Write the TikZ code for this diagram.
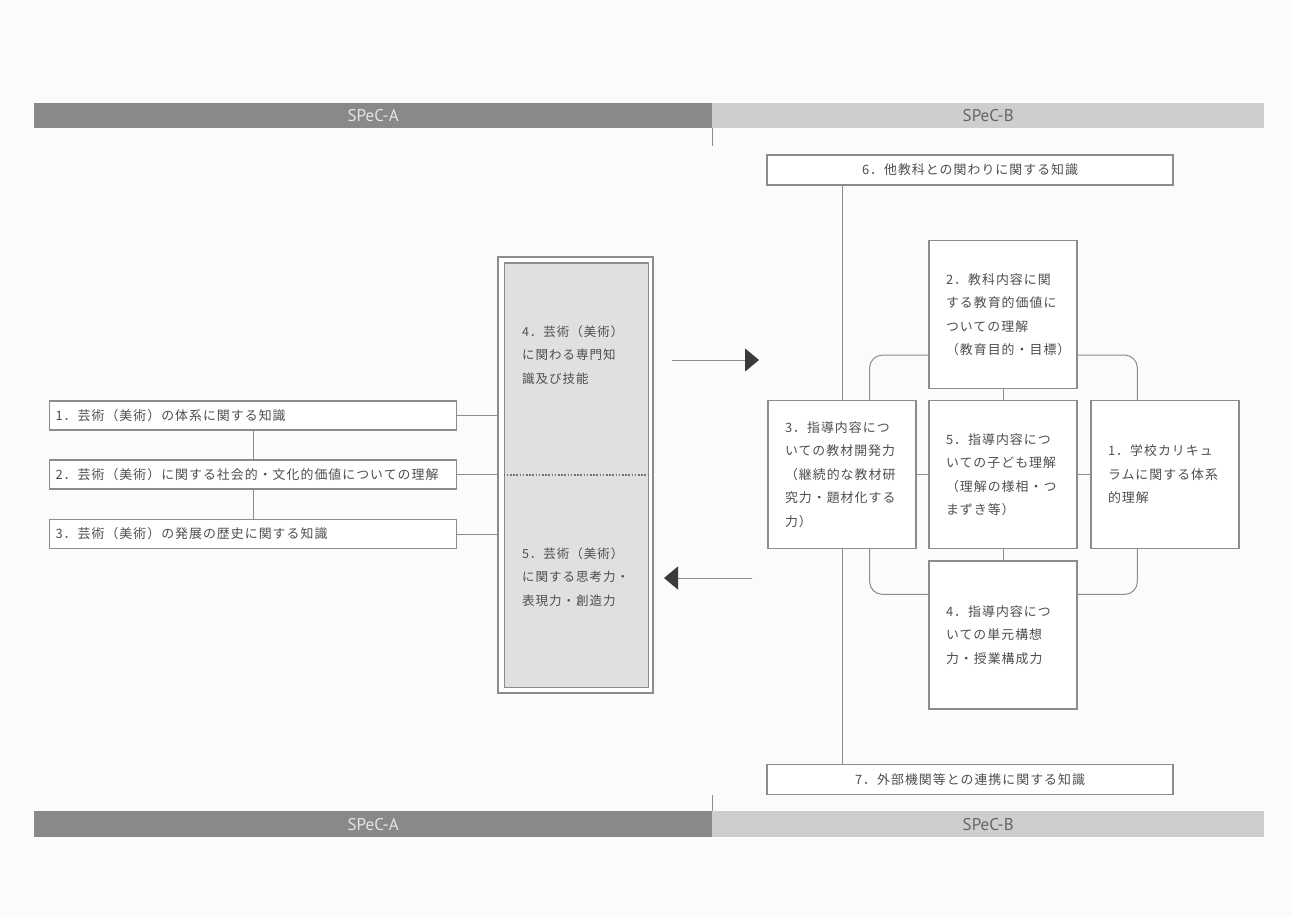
\documentclass[tikz,border=0pt]{standalone}
\usepackage{fontspec}
\newfontfamily\jpfont[LetterSpace=8]{Noto Sans CJK JP}
\newfontfamily\bandfont{PT Sans}
\usetikzlibrary{arrows.meta}

\definecolor{bgc}{HTML}{FBFBFB}
\definecolor{barA}{HTML}{88898B}
\definecolor{barB}{HTML}{CDCECF}
\definecolor{ln}{HTML}{8C8C8C}
\definecolor{txt}{HTML}{4E4E4E}
\definecolor{cfill}{HTML}{DFE0E2}
\definecolor{tipc}{HTML}{3A3A3A}

\begin{document}
\begin{tikzpicture}[x=1pt,y=-1pt,
  band/.style={anchor=north west, inner sep=0, minimum height=25pt,
    font=\bandfont\fontsize{17pt}{17pt}\selectfont},
  box/.style={draw=ln, line width=1.1pt, fill=white, inner sep=0, text=txt,
    font=\jpfont\fontsize{12.9pt}{23.5pt}\selectfont},
  lbox/.style={box, anchor=west, minimum height=29pt, text width=395pt,
    inner xsep=6pt, align=left},
  sq/.style={box, minimum height=148pt, text width=114pt, inner xsep=17pt, align=left},
  wbox/.style={box, minimum width=406pt, minimum height=30pt},
  ctext/.style={inner sep=0, text=txt, text width=112pt, align=left,
    font=\jpfont\fontsize{12.5pt}{23.3pt}\selectfont},
  conn/.style={draw=ln, line width=1pt},
  flow/.style={conn, -{Triangle[length=14pt,width=23pt,color=tipc]}}
]
\useasboundingbox[fill=bgc] (0,0) rectangle (1292,917);

% header and footer bands
\node[band, fill=barA, minimum width=678pt, text=white!90!black] (topA) at (34,103) {SPeC-A};
\node[band, fill=barB, minimum width=552pt, text=black!60] (topB) at (712,103) {SPeC-B};
\node[band, fill=barA, minimum width=678pt, minimum height=26pt, text=white!90!black] (botA) at (34,811) {SPeC-A};
\node[band, fill=barB, minimum width=552pt, minimum height=26pt, text=black!60] (botB) at (712,811) {SPeC-B};
\draw[conn] (topA.south east) -- ++(0,18);
\draw[conn] (botA.north east) -- ++(0,-16);

% SPeC-A: left list
\node[lbox] (L1) at (49,415.5) {1．芸術（美術）の体系に関する知識};
\node[lbox] (L2) at (49,474.5) {2．芸術（美術）に関する社会的・文化的価値についての理解};
\node[lbox] (L3) at (49,534) {3．芸術（美術）の発展の歴史に関する知識};

% SPeC-A: central double frame
\node[draw=ln, line width=1.1pt, fill=white, inner sep=0,
      minimum width=155pt, minimum height=436pt] (cout) at (575.5,475) {};
\node[draw=ln, line width=1pt, fill=cfill, inner sep=0,
      minimum width=144pt, minimum height=424pt] (cin) at (576,475) {};
\draw[draw=black!55, line width=1.2pt, dash pattern=on 1.6pt off 1.6pt] (cin.west) -- (cin.east);
\node[ctext] (t4) at (578,355) {4．芸術（美術）\\に関わる専門知\\識及び技能};
\node[ctext] (t5) at (578,577) {5．芸術（美術）\\に関する思考力・\\表現力・創造力};

\draw[conn] (L1.south) -- (L2.north);
\draw[conn] (L2.south) -- (L3.north);
\draw[conn] (L1.east) -- (L1.east -| cout.west);
\draw[conn] (L2.east) -- (L2.east -| cout.west);
\draw[conn] (L3.east) -- (L3.east -| cout.west);

% exchange arrows
\coordinate (r1) at (672,360);
\coordinate (r2) at (759,360);
\coordinate (l1) at (752,578);
\coordinate (l2) at (664,578);
\draw[flow] (r1) -- (r2);
\draw[flow] (l1) -- (l2);

% SPeC-B
\node[wbox] (b6) at (970,170) {6．他教科との関わりに関する知識};
\node[wbox] (b7) at (970,779.5) {7．外部機関等との連携に関する知識};
\node[sq] (b2) at (1003,314.5) {2．教科内容に関\\する教育的価値に\\ついての理解\\（教育目的・目標）};
\node[sq] (b3) at (842,474.5) {3．指導内容につ\\いての教材開発力\\（継続的な教材研\\究力・題材化する\\力）};
\node[sq] (b5) at (1003,474.5) {5．指導内容につ\\いての子ども理解\\（理解の様相・つ\\まずき等）};
\node[sq] (b1) at (1165,474.5) {1．学校カリキュ\\ラムに関する体系\\的理解};
\node[sq] (b4) at (1003,635) {4．指導内容につ\\いての単元構想\\力・授業構成力};

\draw[conn] (b3.north |- b6.south) -- (b3.north);
\draw[conn] (b3.south) -- (b3.south |- b7.north);
\draw[conn] (b2.south) -- (b5.north);
\draw[conn] (b5.south) -- (b4.north);
\draw[conn] (b3.east) -- (b5.west);
\draw[conn] (b5.east) -- (b1.west);
\draw[conn, rounded corners=13pt] ([yshift=34pt]b2.south west) -| ([xshift=-47pt]b3.north east);
\draw[conn, rounded corners=13pt] ([yshift=34pt]b2.south east) -| ([xshift=47pt]b1.north west);
\draw[conn, rounded corners=13pt] ([xshift=-47pt]b3.south east) |- ([yshift=-34pt]b4.north west);
\draw[conn, rounded corners=13pt] ([xshift=47pt]b1.south west) |- ([yshift=-34pt]b4.north east);
\end{tikzpicture}
\end{document}
